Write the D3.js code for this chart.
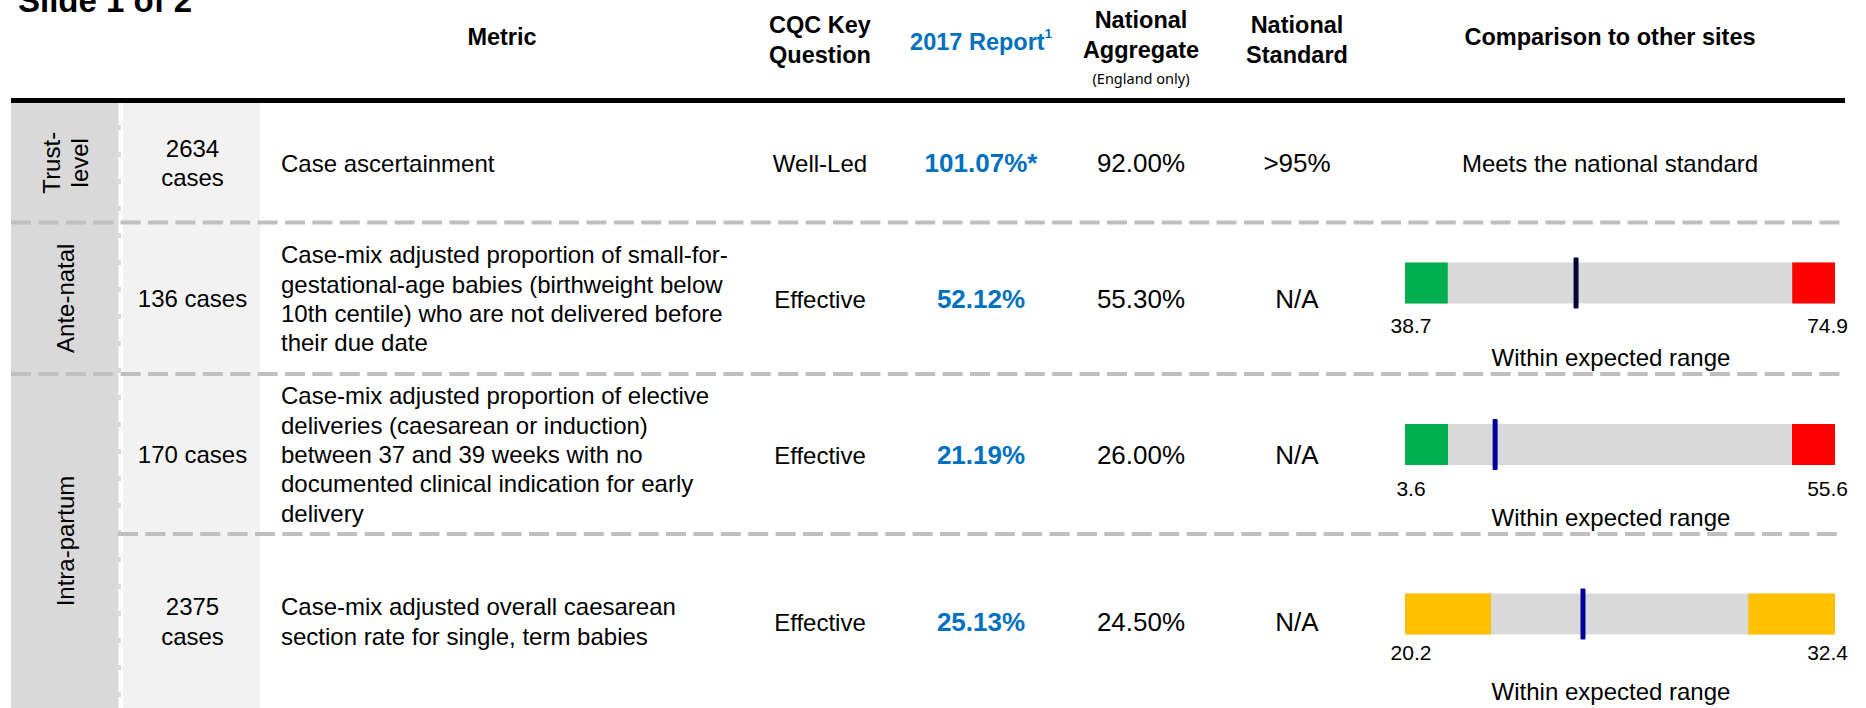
<!DOCTYPE html>
<html>
<head>
<meta charset="utf-8">
<script src="https://cdn.jsdelivr.net/npm/d3@7"></script>
<style>
  body { margin: 0; background: #fff; }
  svg { display: block; font-family: "Liberation Sans", Arial, sans-serif; }
</style>
</head>
<body>
<svg width="1866" height="708"></svg>
<script>
// ---- data ----
var headerLabels = [["Metric"], ["CQC Key", "Question"], ["2017 Report"], ["National", "Aggregate"], ["National", "Standard"], ["Comparison to other sites"]];

var groupLabels = [["Trust-", "level"], ["Ante-natal"], ["Intra-partum"]];
var groupRows = [[0, 0], [1, 1], [2, 3]];

var caseCounts = [["2634", "cases"], ["136 cases"], ["170 cases"], ["2375", "cases"]];

var metrics = [
    ["Case ascertainment"],
    ["Case-mix adjusted proportion of small-for-", "gestational-age babies (birthweight below", "10th centile) who are not delivered before", "their due date"],
    ["Case-mix adjusted proportion of elective", "deliveries (caesarean or induction)", "between 37 and 39 weeks with no", "documented clinical indication for early", "delivery"],
    ["Case-mix adjusted overall caesarean", "section rate for single, term babies"]
];

var cqcQuestion = ["Well-Led", "Effective", "Effective", "Effective"];
var report2017 = ["101.07%*", "52.12%", "21.19%", "25.13%"];
var nationalAggregate = ["92.00%", "55.30%", "26.00%", "24.50%"];
var nationalStandard = [">95%", "N/A", "N/A", "N/A"];
var comparisonText = ["Meets the national standard", "Within expected range", "Within expected range", "Within expected range"];

// comparison bars (row 0 has none)
var rangeMin = [null, 38.7, 3.6, 20.2];
var rangeMax = [null, 74.9, 55.6, 32.4];
var lowZoneEnd = [null, 42.3, 8.8, 22.64];
var highZoneStart = [null, 71.3, 50.4, 29.94];
var lowZone = [null, "green", "green", "amber"];
var highZone = [null, "red", "red", "amber"];
var markerAt = [null, 53.1, 14.5, 25.25];

// ---- layout ----
var svg = d3.select("svg");
var blue = "#0070c0";
var zoneColor = { green: "#00b050", red: "#ff0000", amber: "#ffc000" };
var markerColor = [null, "#06063c", "#000099", "#000099"];

var rowEdges = [103, 222.5, 374, 534, 708];
function rowMid(i) { return (rowEdges[i] + rowEdges[i + 1]) / 2; }
var lineGap = 29.4;

var colX = [502, 820, 981, 1141, 1297, 1610];
var barMid = [null, 283, 444.5, 614];
var limitY = [null, 333, 496, 660];

// left bands
svg.append("rect").attr("x", 11).attr("y", rowEdges[0]).attr("width", 110).attr("height", 708 - rowEdges[0]).attr("fill", "#d9d9d9");
svg.append("rect").attr("x", 123).attr("y", rowEdges[0]).attr("width", 137).attr("height", 708 - rowEdges[0]).attr("fill", "#f2f2f2");
svg.append("line").attr("x1", 119.8).attr("x2", 119.8).attr("y1", rowEdges[0]).attr("y2", 708)
    .attr("stroke", "#fff").attr("stroke-width", 2.6).attr("stroke-dasharray", "22 5");

// title (cropped at the top edge, as on the slide)
svg.append("text").attr("x", 18).attr("y", 12)
    .attr("font-size", 33).attr("font-weight", "bold").text("Slide 1 of 2");

// header
var head = svg.append("g").attr("font-weight", "bold").attr("font-size", 23.5).attr("text-anchor", "middle");
var headBase = [[45], [33, 63], [50], [28, 58], [33, 63], [45]];
headerLabels.forEach(function (lines, c) {
    lines.forEach(function (s, k) {
        var t = head.append("text").attr("x", colX[c]).attr("y", headBase[c][k]).text(s);
        if (c == 2) {
            t.attr("fill", blue);
            t.append("tspan").attr("dy", -12).attr("font-size", 13).text("1");
        }
    });
});
svg.append("text").attr("x", colX[3]).attr("y", 84).attr("text-anchor", "middle")
    .attr("font-family", "'Noto Sans', sans-serif").attr("font-size", 14.5).text("(England only)");

svg.append("rect").attr("x", 11).attr("y", 98).attr("width", 1834).attr("height", 5).attr("fill", "#000");

// row separators
var seps = [
    { y: rowEdges[1], x0: 11 },
    { y: rowEdges[2], x0: 11 },
    { y: rowEdges[3], x0: 118 }
];
svg.append("g").selectAll("line").data(seps).enter().append("line")
    .attr("x1", function (d) { return d.x0; }).attr("x2", 1840)
    .attr("y1", function (d) { return d.y; }).attr("y2", function (d) { return d.y; })
    .attr("stroke", "#bfbfbf").attr("stroke-width", 4).attr("stroke-dasharray", "20 7.4");

// group labels, rotated
groupLabels.forEach(function (lines, gi) {
    var cy = (rowEdges[groupRows[gi][0]] + rowEdges[groupRows[gi][1] + 1]) / 2;
    var t = svg.append("text").attr("font-size", 24).attr("text-anchor", "middle")
        .attr("transform", "translate(" + 0 + "," + cy + ") rotate(-90)");
    lines.forEach(function (s, k) {
        var off = (k - (lines.length - 1) / 2) * 28;
        t.append("tspan").attr("x", 0).attr("y", 65 + 8.5 + off).text(s);
    });
});

// multi-line text helper
function block(g, lines, x, i, anchor) {
    lines.forEach(function (s, k) {
        g.append("text").attr("x", x)
            .attr("y", rowMid(i) + 9 + (k - (lines.length - 1) / 2) * lineGap)
            .attr("text-anchor", anchor).text(s);
    });
}

var body = svg.append("g").attr("font-size", 24);
d3.range(4).forEach(function (i) {
    var y = rowMid(i) + 9.5;
    block(body, caseCounts[i], 192.5, i, "middle");
    block(body, metrics[i], 281, i, "start");
    body.append("text").attr("x", colX[1]).attr("y", y).attr("text-anchor", "middle").text(cqcQuestion[i]);
    body.append("text").attr("x", colX[2]).attr("y", y).attr("text-anchor", "middle").attr("font-size", 26)
        .attr("font-weight", "bold").attr("fill", blue).text(report2017[i]);
    body.append("text").attr("x", colX[3]).attr("y", y).attr("text-anchor", "middle").attr("font-size", 26).text(nationalAggregate[i]);
    body.append("text").attr("x", colX[4]).attr("y", y).attr("text-anchor", "middle").attr("font-size", 26).text(nationalStandard[i]);
});

// comparison column
var comp = svg.append("g");
d3.range(4).forEach(function (i) {
    if (rangeMin[i] == null) {
        comp.append("text").attr("x", colX[5]).attr("y", rowMid(i) + 9.5).attr("text-anchor", "middle")
            .attr("font-size", 24).text(comparisonText[i]);
        return;
    }
    var x = d3.scaleLinear().domain([rangeMin[i], rangeMax[i]]).range([1405, 1835]);
    var h = 41, top = barMid[i] - h / 2;
    comp.append("rect").attr("x", x(rangeMin[i])).attr("y", top)
        .attr("width", x(rangeMax[i]) - x(rangeMin[i])).attr("height", h).attr("fill", "#d9d9d9");
    comp.append("rect").attr("x", x(rangeMin[i])).attr("y", top)
        .attr("width", x(lowZoneEnd[i]) - x(rangeMin[i])).attr("height", h).attr("fill", zoneColor[lowZone[i]]);
    comp.append("rect").attr("x", x(highZoneStart[i])).attr("y", top)
        .attr("width", x(rangeMax[i]) - x(highZoneStart[i])).attr("height", h).attr("fill", zoneColor[highZone[i]]);
    comp.append("rect").attr("x", x(markerAt[i]) - 2.5).attr("y", top - 5)
        .attr("width", 5).attr("height", h + 10).attr("rx", 1).attr("fill", markerColor[i]);

    comp.append("text").attr("x", 1411).attr("y", limitY[i]).attr("text-anchor", "middle")
        .attr("font-size", 21).text(d3.format(".1f")(rangeMin[i]));
    comp.append("text").attr("x", 1848).attr("y", limitY[i]).attr("text-anchor", "end")
        .attr("font-size", 21).text(d3.format(".1f")(rangeMax[i]));
    comp.append("text").attr("x", 1611).attr("y", rowEdges[i + 1] - 8.5).attr("text-anchor", "middle")
        .attr("font-size", 24).text(comparisonText[i]);
});
</script>
</body>
</html>
